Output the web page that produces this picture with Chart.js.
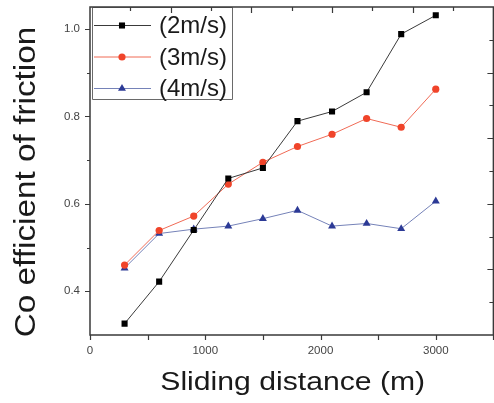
<!DOCTYPE html>
<html>
<head>
<meta charset="utf-8">
<script src="https://cdn.jsdelivr.net/npm/chart.js@4/dist/chart.umd.min.js"></script>
<style>
  html, body { margin: 0; padding: 0; background: #fff; overflow: hidden; }
  canvas { display: block; }
</style>
</head>
<body>
<canvas id="chart" width="498" height="403"></canvas>
<script>
// sliding distance (m)
const distances = [300, 600, 900, 1200, 1500, 1800, 2100, 2400, 2700, 3000];
// coefficient of friction per sliding speed
const mu2 = [0.326, 0.422, 0.540, 0.658, 0.682, 0.789, 0.811, 0.855, 0.988, 1.031];
const mu3 = [0.460, 0.539, 0.572, 0.645, 0.695, 0.731, 0.759, 0.795, 0.775, 0.862];
const mu4 = [0.453, 0.532, 0.542, 0.549, 0.566, 0.585, 0.549, 0.555, 0.543, 0.606];
const seriesLabels = ['(2m/s)', '(3m/s)', '(4m/s)'];
const xTickLabels = [0, 1000, 2000, 3000];
const yTickLabels = [0.4, 0.6, 0.8, 1.0];
const xTitle = 'Sliding distance (m)';
const yTitle = 'Co efficient of friction';

const FONT = "'Liberation Sans', Arial, sans-serif";
const X_MIN = 0, X_MAX = 3500, Y_MIN = 0.3, Y_MAX = 1.05;

const toPoints = vals => vals.map((v, i) => ({ x: distances[i], y: v }));

const styles = [
  { line: '#3a3a3a', fill: '#000000', shape: 'rect', r: 4.3 },
  { line: '#f06a55', fill: '#f0442a', shape: 'circle', r: 3.6 },
  { line: '#7582b8', fill: '#2c3a96', shape: 'triangle', r: 4.6 }
];

const datasets = [mu2, mu3, mu4].map((vals, i) => ({
  label: seriesLabels[i],
  data: toPoints(vals),
  showLine: true,
  borderColor: styles[i].line,
  borderWidth: 1,
  backgroundColor: styles[i].fill,
  pointBorderColor: styles[i].fill,
  pointBackgroundColor: styles[i].fill,
  pointStyle: styles[i].shape,
  pointRadius: styles[i].r,
  pointBorderWidth: 0,
  tension: 0
}));

const noScalePadding = s => {
  s.paddingLeft = 0; s.paddingRight = 0;
  s.paddingTop = 0; s.paddingBottom = 0;
};

// legend inside the plot, box with ticks on all sides, stretched axis titles
const framePlugin = {
  id: 'frame',
  afterDraw(chart) {
    const ctx = chart.ctx;
    const a = chart.chartArea;
    const x = chart.scales.x, y = chart.scales.y;
    ctx.save();

    // legend
    const bx = a.left + 2, by = a.top, bw = 140, bh = 92;
    ctx.fillStyle = '#fff';
    ctx.fillRect(bx, by, bw, bh);
    ctx.strokeStyle = '#6a6a6a';
    ctx.lineWidth = 1;
    ctx.beginPath();
    ctx.rect(bx + 0.5, by + 0.5, bw, bh);
    ctx.stroke();
    ctx.font = '24px ' + FONT;
    ctx.textBaseline = 'middle';
    ctx.textAlign = 'left';
    chart.data.datasets.forEach((ds, i) => {
      const ry = by + 18.5 + i * 31.5;
      ctx.strokeStyle = ds.borderColor;
      ctx.lineWidth = 1;
      ctx.beginPath();
      ctx.moveTo(bx + 2, ry); ctx.lineTo(bx + 59, ry);
      ctx.stroke();
      ctx.fillStyle = ds.pointBackgroundColor;
      ctx.strokeStyle = ds.pointBackgroundColor;
      Chart.helpers.drawPoint(ctx, { pointStyle: ds.pointStyle, radius: ds.pointRadius, rotation: 0, borderWidth: 0 }, bx + 30, ry);
      ctx.fillStyle = '#1a1a1a';
      ctx.fillText(ds.label, bx + 67, ry + 1);
    });

    // frame
    ctx.strokeStyle = '#3a3a3a';
    ctx.lineWidth = 1.5;
    ctx.beginPath();
    ctx.rect(a.left, a.top, a.right - a.left, a.bottom - a.top);
    ctx.stroke();

    ctx.lineWidth = 1.2;
    ctx.beginPath();
    // bottom / left: outward, on data values
    for (let v = X_MIN; v <= X_MAX; v += 500) {
      const px = Math.round(x.getPixelForValue(v)) + 0.5;
      ctx.moveTo(px, a.bottom); ctx.lineTo(px, a.bottom + 5);
    }
    for (let k = 4; k <= 10; k++) {
      const py = Math.round(y.getPixelForValue(k / 10)) + 0.5;
      const len = k % 2 === 0 ? 5 : 3;
      ctx.moveTo(a.left, py); ctx.lineTo(a.left - len, py);
    }
    // top / right: inward, ten divisions of the span
    for (let k = 1; k < 10; k++) {
      const len = k % 2 === 0 ? 6 : 4;
      const px = Math.round(x.getPixelForValue(X_MIN + k * (X_MAX - X_MIN) / 10)) + 0.5;
      ctx.moveTo(px, a.top); ctx.lineTo(px, a.top + len);
      const py = Math.round(y.getPixelForValue(Y_MIN + k * (Y_MAX - Y_MIN) / 10)) + 0.5;
      ctx.moveTo(a.right, py); ctx.lineTo(a.right - len, py);
    }
    ctx.stroke();

    // axis titles
    ctx.fillStyle = '#1a1a1a';
    ctx.textAlign = 'center';
    ctx.textBaseline = 'alphabetic';
    ctx.save();
    ctx.translate((a.left + a.right) / 2 + 1, 390);
    ctx.scale(1.16, 1);
    ctx.font = '26px ' + FONT;
    ctx.fillText(xTitle, 0, 0);
    ctx.restore();
    ctx.save();
    ctx.translate(35, (a.top + a.bottom) / 2 + 11);
    ctx.rotate(-Math.PI / 2);
    ctx.scale(1.13, 1);
    ctx.font = '29.5px ' + FONT;
    ctx.fillText(yTitle, 0, 0);
    ctx.restore();

    ctx.restore();
  }
};

new Chart(document.getElementById('chart'), {
  type: 'scatter',
  data: { datasets },
  plugins: [framePlugin],
  options: {
    responsive: false,
    animation: false,
    layout: { padding: { top: 7, right: 1, left: 0, bottom: 0 } },
    plugins: { legend: { display: false }, tooltip: { enabled: false } },
    scales: {
      x: {
        type: 'linear',
        min: X_MIN,
        max: X_MAX,
        grid: { display: false, drawTicks: false },
        border: { display: false },
        afterFit: s => { s.height = 68; noScalePadding(s); },
        ticks: {
          stepSize: 500,
          padding: 9,
          color: '#444',
          font: { family: FONT, size: 11.5 },
          maxRotation: 0,
          autoSkip: false,
          callback: v => xTickLabels.includes(v) ? String(v) : ''
        }
      },
      y: {
        type: 'linear',
        min: Y_MIN,
        max: Y_MAX,
        grid: { display: false, drawTicks: false },
        border: { display: false },
        afterFit: s => { s.width = 90; noScalePadding(s); },
        ticks: {
          stepSize: 0.1,
          padding: 10,
          color: '#444',
          font: { family: FONT, size: 11.5 },
          autoSkip: false,
          callback: v => {
            const hit = yTickLabels.find(t => Math.abs(t - v) < 1e-6);
            return hit !== undefined ? hit.toFixed(1) : '';
          }
        }
      }
    }
  }
});
</script>
</body>
</html>
